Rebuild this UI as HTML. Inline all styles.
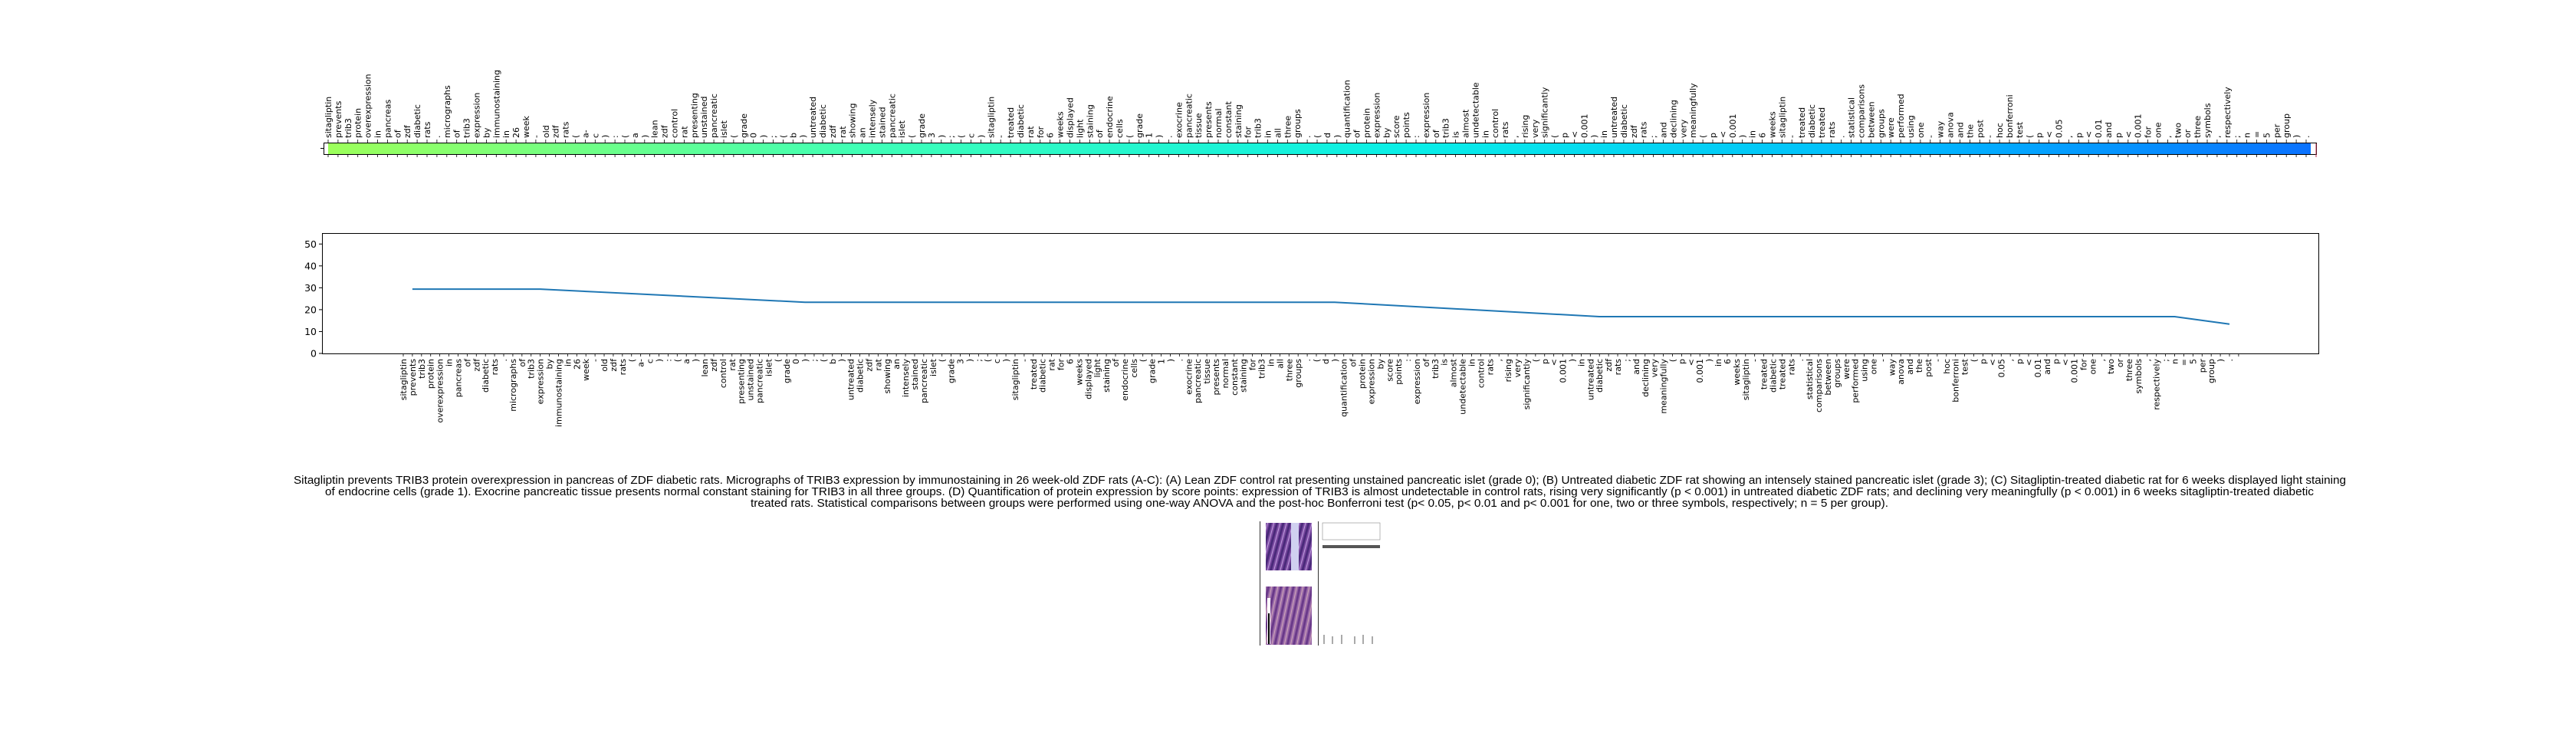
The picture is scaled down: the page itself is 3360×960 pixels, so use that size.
<!DOCTYPE html>
<html><head><meta charset="utf-8"><style>
html,body{margin:0;padding:0;background:#fff;}
svg{display:block;font-family:"DejaVu Sans","Liberation Sans",sans-serif;}
</style></head><body>
<svg id="fig" width="3360" height="960" viewBox="0 0 3360 960" xmlns="http://www.w3.org/2000/svg">
<defs>
<linearGradient id="cbar" x1="0" x2="1" y1="0" y2="0">
<stop offset="0" stop-color="#9cff5a"/><stop offset="0.27" stop-color="#3fffb6"/><stop offset="0.55" stop-color="#08eee8"/><stop offset="0.8" stop-color="#00b8ff"/><stop offset="1" stop-color="#0a72ff"/>
</linearGradient>
<pattern id="tissue" width="8" height="20" patternUnits="userSpaceOnUse" patternTransform="rotate(15)">
<rect width="8" height="20" fill="#7a4aa0"/><rect x="0" width="3" height="20" fill="#4a2a7a"/><rect x="5" width="1" height="20" fill="#c0a0e0"/>
</pattern>
<pattern id="tissue2" width="8" height="20" patternUnits="userSpaceOnUse" patternTransform="rotate(12)">
<rect width="8" height="20" fill="#9a6aa8"/><rect x="0" width="3" height="20" fill="#6a3a8a"/><rect x="5" width="1" height="20" fill="#d0a8b8"/>
</pattern>
</defs>
<g id="topPanel"></g>
<g id="bottomPanel"></g>
<g font-size="14.5" fill="#000" font-family="Liberation Sans, sans-serif">
<text x="383" y="631" textLength="2677" lengthAdjust="spacingAndGlyphs">Sitagliptin prevents TRIB3 protein overexpression in pancreas of ZDF diabetic rats. Micrographs of TRIB3 expression by immunostaining in 26 week-old ZDF rats (A-C): (A) Lean ZDF control rat presenting unstained pancreatic islet (grade 0); (B) Untreated diabetic ZDF rat showing an intensely stained pancreatic islet (grade 3); (C) Sitagliptin-treated diabetic rat for 6 weeks displayed light staining</text>
<text x="424" y="646" textLength="2594" lengthAdjust="spacingAndGlyphs">of endocrine cells (grade 1). Exocrine pancreatic tissue presents normal constant staining for TRIB3 in all three groups. (D) Quantification of protein expression by score points: expression of TRIB3 is almost undetectable in control rats, rising very significantly (p &lt; 0.001) in untreated diabetic ZDF rats; and declining very meaningfully (p &lt; 0.001) in 6 weeks sitagliptin-treated diabetic</text>
<text x="979" y="661" textLength="1484" lengthAdjust="spacingAndGlyphs">treated rats. Statistical comparisons between groups were performed using one-way ANOVA and the post-hoc Bonferroni test (p&lt; 0.05, p&lt; 0.01 and p&lt; 0.001 for one, two or three symbols, respectively; n = 5 per group).</text>
</g>
<g>
<line x1="1643.5" y1="680" x2="1643.5" y2="842" stroke="#333" stroke-width="1"/>
<rect x="1651" y="682" width="60" height="62" fill="url(#tissue)"/>
<rect x="1684" y="682" width="10" height="62" fill="#d0d0f0"/>
<rect x="1651" y="765" width="60" height="76" fill="url(#tissue2)"/>
<rect x="1653" y="780" width="4" height="60" fill="#fff"/><rect x="1654" y="800" width="2" height="40" fill="#000"/>
<line x1="1719.5" y1="680" x2="1719.5" y2="842" stroke="#333" stroke-width="1"/>
<rect x="1725" y="682" width="75" height="22" fill="none" stroke="#888" stroke-width="0.6"/>
<rect x="1725" y="711" width="75" height="4" fill="#555"/>
<g stroke="#555" stroke-width="1"><line x1="1727" y1="828" x2="1727" y2="840"/><line x1="1738" y1="830" x2="1738" y2="840"/><line x1="1750" y1="828" x2="1750" y2="840"/><line x1="1767" y1="830" x2="1767" y2="840"/><line x1="1778" y1="828" x2="1778" y2="840"/><line x1="1790" y1="830" x2="1790" y2="840"/></g>
</g>
</svg>
<script>
const tokens = ["sitagliptin","prevents","trib3","protein","overexpression","in","pancreas","of","zdf","diabetic","rats",".","micrographs","of","trib3","expression","by","immunostaining","in","26","week","-","old","zdf","rats","(","a-","c",")",":","(","a",")","lean","zdf","control","rat","presenting","unstained","pancreatic","islet","(","grade","0",")",";","(","b",")","untreated","diabetic","zdf","rat","showing","an","intensely","stained","pancreatic","islet","(","grade","3",")",";","(","c",")","sitagliptin","-","treated","diabetic","rat","for","6","weeks","displayed","light","staining","of","endocrine","cells","(","grade","1",")",".","exocrine","pancreatic","tissue","presents","normal","constant","staining","for","trib3","in","all","three","groups",".","(","d",")","quantification","of","protein","expression","by","score","points",":","expression","of","trib3","is","almost","undetectable","in","control","rats",",","rising","very","significantly","(","p","<","0.001",")","in","untreated","diabetic","zdf","rats",";","and","declining","very","meaningfully","(","p","<","0.001",")","in","6","weeks","sitagliptin","-","treated","diabetic","treated","rats",".","statistical","comparisons","between","groups","were","performed","using","one","-","way","anova","and","the","post","-","hoc","bonferroni","test","(","p","<","0.05",",","p","<","0.01","and","p","<","0.001","for","one",",","two","or","three","symbols",",","respectively",";","n","=","5","per","group",")","."];
// line series: category index -> score value
const lineIdx = [1, 15, 44, 102, 131, 194, 200];
const lineVal = [29.4, 29.4, 23.4, 23.4, 16.8, 16.8, 13.4];
const yTicks = [0, 10, 20, 30, 40, 50];

const NS = "http://www.w3.org/2000/svg";
function mk(tag, attrs, parent){const e=document.createElementNS(NS,tag);for(const k in attrs)e.setAttribute(k,attrs[k]);parent.appendChild(e);return e;}

// ---- top colorbar ----
const topG = document.getElementById('topPanel');
const cbX0=422, cbX1=3021, cbY0=186, cbY1=201;
const tx0=428, tx1=3008;
const tStep=(tx1-tx0)/(tokens.length-1);
function txs(i){return tx0+i*tStep;}
let r = mk('rect',{x:cbX0+6,y:cbY0,width:(tx1+6)-(cbX0+6),height:cbY1-cbY0,fill:'url(#cbar)'},topG);


r = mk('rect',{x:cbX0+0.5,y:cbY0+0.5,width:cbX1-cbX0,height:cbY1-cbY0,fill:'none',stroke:'#000','stroke-width':1},topG);


mk('line',{x1:cbX0-4,y1:193.5,x2:cbX0,y2:193.5,stroke:'#000'},topG);
mk('line',{x1:cbX1,y1:187,x2:cbX1,y2:205,stroke:'#c03050'},topG);
tokens.forEach((t,i)=>{
  const x=txs(i);
  mk('line',{x1:x,y1:cbY0-4,x2:x,y2:cbY0,stroke:'#000','stroke-width':0.8},topG);
  mk('line',{x1:x,y1:cbY1,x2:x,y2:cbY1+4,stroke:'#000','stroke-width':0.8},topG);
  const tt=mk('text',{x:0,y:0,'font-size':11,transform:`translate(${x+4},${cbY0-6}) rotate(-90)`},topG);
  
  
  tt.textContent=t;
});

// ---- bottom line chart ----
const botG=document.getElementById('bottomPanel');
const ax0=420, ax1=3024, ay0=304, ay1=461, yMax=55;
const bx0=526, bStep=(2908-526)/(tokens.length-1);
function xs(i){return bx0+i*bStep;}
function ys(v){return ay1-(v/yMax)*(ay1-ay0);}
r=mk('rect',{x:ax0+0.5,y:ay0+0.5,width:ax1-ax0,height:ay1-ay0,fill:'none',stroke:'#000','stroke-width':1},botG);


yTicks.forEach(v=>{
  const y=ys(v);
  mk('line',{x1:ax0-4,y1:y,x2:ax0,y2:y,stroke:'#000'},botG);
  const t=mk('text',{x:ax0-7,y:y+4.5,'font-size':12.5,'text-anchor':'end'},botG);
  
  
  t.textContent=v;
});
tokens.concat([""]).forEach((t,i)=>{
  const x=xs(i);
  mk('line',{x1:x,y1:ay1,x2:x,y2:ay1+4,stroke:'#000','stroke-width':0.8},botG);
  if(!t) return;
  const tt=mk('text',{x:0,y:0,'font-size':11,'text-anchor':'end',transform:`translate(${x+4},${ay1+7}) rotate(-90)`},botG);
  
  
  tt.textContent=t;
});
const pts=lineIdx.map((ix,k)=>xs(ix).toFixed(1)+','+ys(lineVal[k]).toFixed(1)).join(' ');
const pl=mk('polyline',{points:pts,fill:'none',stroke:'#1f77b4','stroke-width':2},botG);


</script>
</body></html>
